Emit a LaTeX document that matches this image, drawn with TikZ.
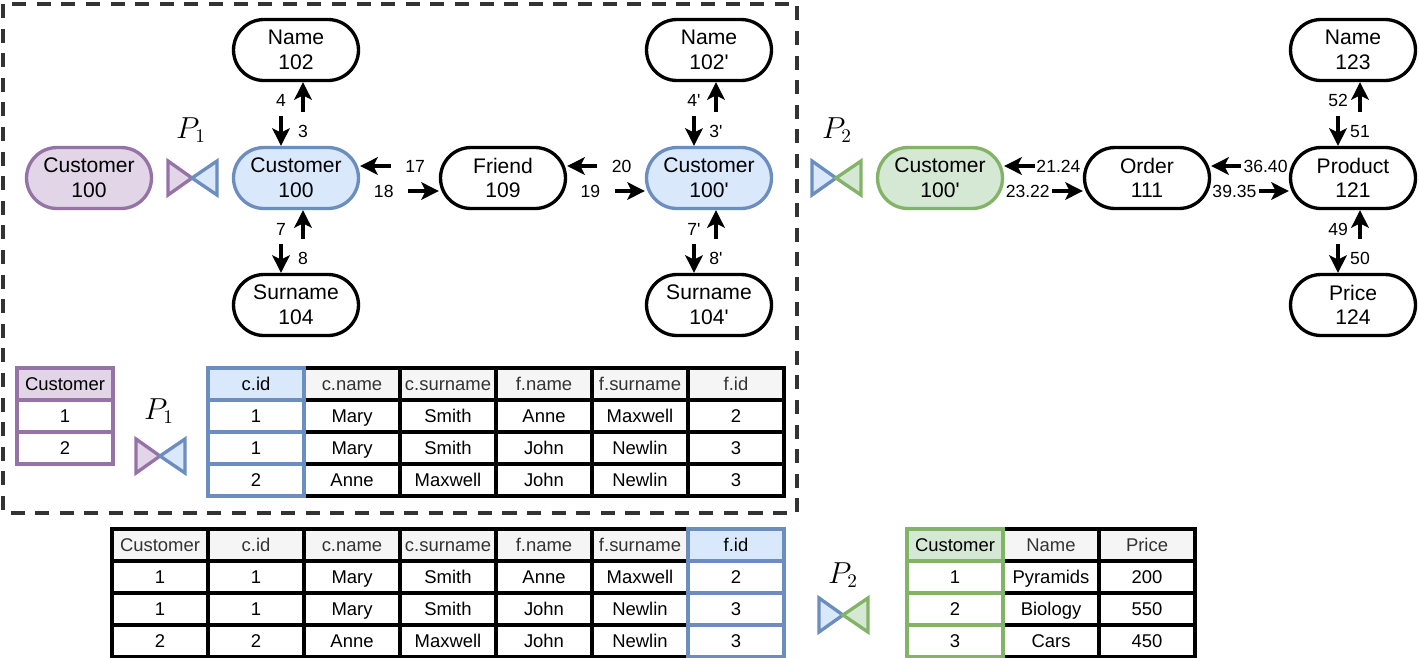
\documentclass[tikz,border=0pt]{standalone}
\usepackage[no-math]{fontspec}
\setmainfont{Liberation Sans}[Ligatures=TeXOff]
\newfontfamily\narrowfont{Liberation Sans}[FakeStretch=0.86, Ligatures=TeXOff]
\usetikzlibrary{arrows.meta, shapes.misc}

\definecolor{purpleline}{HTML}{9673A6}
\definecolor{purplefill}{HTML}{E1D5E7}
\definecolor{blueline}{HTML}{6C8EBF}
\definecolor{bluefill}{HTML}{DAE8FC}
\definecolor{greenline}{HTML}{82B366}
\definecolor{greenfill}{HTML}{D5E8D4}
\definecolor{headfill}{HTML}{F5F5F5}
\definecolor{headtext}{HTML}{333333}
\definecolor{boxgray}{HTML}{333333}

\tikzset{
  entity/.style={rounded rectangle, draw, line width=1.9pt, fill=white, minimum width=2.5cm, minimum height=1.22cm, inner sep=0pt, align=center, font=\fontsize{12}{14}\selectfont},
  purpleent/.style={entity, draw=purpleline, fill=purplefill},
  blueent/.style={entity, draw=blueline, fill=bluefill},
  greenent/.style={entity, draw=greenline, fill=greenfill},
  rel/.style={-{Stealth[length=10pt, width=10pt, inset=2.5pt]}, line width=1.9pt},
  hrel/.style={rel, shorten <=0.96cm},
  vrel/.style={rel, shorten <=0.68cm},
  elabel/.style={font=\fontsize{10}{11}\selectfont, inner sep=0pt},
  cell/.style={draw, line width=1.9pt, fill=white, minimum width=1.92cm, minimum height=0.64cm, inner sep=0pt, outer sep=0pt, text height=9pt, text depth=1.8pt, font=\fontsize{10.5}{12}\selectfont},
  head/.style={cell, fill=headfill, text=headtext},
  joinline/.style={line width=1.9pt, line join=miter},
  plabel/.style={font=\fontsize{16}{18}\selectfont, inner sep=0pt},
  dashbox/.style={draw=boxgray, line width=2pt, dash pattern=on 8pt off 6pt}
}

% join symbol: #1 centre, #2 left colour, #3 right colour
\newcommand{\joinmark}[3]{%
  \begin{scope}[shift={(#1)}]
    \draw[joinline, draw=#2line, fill=#2fill] (-24,-17) -- (0,0) -- (-24,17) -- cycle;
    \draw[joinline, draw=#3line, fill=#3fill] (25,-17) -- (0,0) -- (25,17) -- cycle;
  \end{scope}}

\begin{document}
\begin{tikzpicture}[x=0.02cm, y=-0.02cm]
  \useasboundingbox (0,0) rectangle (1419,657);

  % Partition P1
  \draw[dashbox] (3,4) rectangle (797,513);

  % Nodes
  \node[purpleent] (cust0) at (89,178) {Customer\\100};
  \node[blueent] (cust1) at (296,178) {Customer\\100};
  \node[entity] (name1) at (296,50) {Name\\102};
  \node[entity] (surn1) at (296,305) {Surname\\104};
  \node[entity] (friend) at (503,178) {Friend\\109};
  \node[blueent] (cust2) at (709,178) {Customer\\100'};
  \node[entity] (name2) at (709,50) {Name\\102'};
  \node[entity] (surn2) at (709,305) {Surname\\104'};
  \node[greenent] (cust3) at (940,178) {Customer\\100'};
  \node[entity] (order) at (1147,178) {Order\\111};
  \node[entity] (prod) at (1353,178) {Product\\121};
  \node[entity] (pname) at (1353,50) {Name\\123};
  \node[entity] (price) at (1353,305) {Price\\124};

  % Join symbols
  \node[plabel] (p1a) at (191,130) {$P_1$};
  \joinmark{192,178}{purple}{blue}
  \node[plabel] (p2a) at (837,130) {$P_2$};
  \joinmark{836,178}{blue}{green}

  % Edges
  \draw[vrel] ([xshift=0.14cm]cust1.north) -- ([xshift=0.14cm]name1.south) node[elabel, pos=0.23] {3};
  \draw[vrel] ([xshift=-0.3cm]name1.south) -- ([xshift=-0.3cm]cust1.north) node[elabel, pos=0.29] {4};
  \draw[vrel] ([xshift=-0.3cm]cust1.south) -- ([xshift=-0.3cm]surn1.north) node[elabel, pos=0.31] {7};
  \draw[vrel] ([xshift=0.14cm]surn1.north) -- ([xshift=0.14cm]cust1.south) node[elabel, pos=0.23] {8};
  \draw[hrel] ([yshift=0.24cm]friend.west) -- ([yshift=0.24cm]cust1.east) node[elabel, pos=0.3] {17};
  \draw[hrel] ([yshift=-0.26cm]cust1.east) -- ([yshift=-0.26cm]friend.west) node[elabel, pos=0.3] {18};
  \draw[hrel] ([yshift=-0.26cm]friend.east) -- ([yshift=-0.26cm]cust2.west) node[elabel, pos=0.3] {19};
  \draw[hrel] ([yshift=0.24cm]cust2.west) -- ([yshift=0.24cm]friend.east) node[elabel, pos=0.3] {20};
  \draw[vrel] ([xshift=0.14cm]cust2.north) -- ([xshift=0.14cm]name2.south) node[elabel, pos=0.23] {3'};
  \draw[vrel] ([xshift=-0.3cm]name2.south) -- ([xshift=-0.3cm]cust2.north) node[elabel, pos=0.29] {4'};
  \draw[vrel] ([xshift=-0.3cm]cust2.south) -- ([xshift=-0.3cm]surn2.north) node[elabel, pos=0.31] {7'};
  \draw[vrel] ([xshift=0.14cm]surn2.north) -- ([xshift=0.14cm]cust2.south) node[elabel, pos=0.23] {8'};
  \draw[hrel] ([yshift=0.24cm]order.west) -- ([yshift=0.24cm]cust3.east) node[elabel, pos=0.31] {21.24};
  \draw[hrel] ([yshift=-0.26cm]cust3.east) -- ([yshift=-0.26cm]order.west) node[elabel, pos=0.3] {23.22};
  \draw[hrel] ([yshift=0.24cm]prod.west) -- ([yshift=0.24cm]order.east) node[elabel, pos=0.3] {36.40};
  \draw[hrel] ([yshift=-0.26cm]order.east) -- ([yshift=-0.26cm]prod.west) node[elabel, pos=0.3] {39.35};
  \draw[vrel] ([xshift=0.14cm]prod.north) -- ([xshift=0.14cm]pname.south) node[elabel, pos=0.23] {51};
  \draw[vrel] ([xshift=-0.3cm]pname.south) -- ([xshift=-0.3cm]prod.north) node[elabel, pos=0.29] {52};
  \draw[vrel] ([xshift=-0.3cm]prod.south) -- ([xshift=-0.3cm]price.north) node[elabel, pos=0.31] {49};
  \draw[vrel] ([xshift=0.14cm]price.north) -- ([xshift=0.14cm]prod.south) node[elabel, pos=0.23] {50};

  % Table: customers of P1
  \node[head, draw=purpleline, fill=purplefill, text=black] (ct0) at (65,384) {Customer};
  \node[cell, draw=purpleline] (ct1) at (65,416) {1};
  \node[cell, draw=purpleline] (ct2) at (65,448) {2};
  \node[plabel] (p1b) at (159,411) {$P_1$};
  \joinmark{160,456}{purple}{blue}

  % Table: customers with friends
  \foreach \txt [count=\j] in {c.name, c.surname, f.name, f.surname, f.id}
    \node[head] (fh\j) at ({256+96*\j},384) {\txt};
  \foreach \cnm/\csn/\fnm/\fsn/\fid [count=\i] in {Mary/Smith/Anne/Maxwell/2, Mary/Smith/John/Newlin/3, Anne/Maxwell/John/Newlin/3} {
    \node[cell] (f\i-1) at (352,{384+32*\i}) {\cnm};
    \node[cell] (f\i-2) at (448,{384+32*\i}) {\csn};
    \node[cell] (f\i-3) at (544,{384+32*\i}) {\fnm};
    \node[cell] (f\i-4) at (640,{384+32*\i}) {\fsn};
    \node[cell] (f\i-5) at (736,{384+32*\i}) {\fid};
  }
  \node[head, draw=blueline, fill=bluefill, text=black] (fh0) at (256,384) {c.id};
  \foreach \cid [count=\i] in {1,1,2}
    \node[cell, draw=blueline] (f\i-0) at (256,{384+32*\i}) {\cid};

  % Table: joined result
  \begin{scope}[every node/.append style={font=\narrowfont\fontsize{11.5}{12}\selectfont}]
    \foreach \txt [count=\j from 0] in {Customer, c.id, c.name, c.surname, f.name, f.surname}
      \node[head] (rh\j) at ({160+96*\j},545) {\txt};
    \foreach \cu/\cid/\cnm/\csn/\fnm/\fsn [count=\i] in {1/1/Mary/Smith/Anne/Maxwell, 1/1/Mary/Smith/John/Newlin, 2/2/Anne/Maxwell/John/Newlin} {
      \node[cell] (r\i-0) at (160,{545+32*\i}) {\cu};
      \node[cell] (r\i-1) at (256,{545+32*\i}) {\cid};
      \node[cell] (r\i-2) at (352,{545+32*\i}) {\cnm};
      \node[cell] (r\i-3) at (448,{545+32*\i}) {\csn};
      \node[cell] (r\i-4) at (544,{545+32*\i}) {\fnm};
      \node[cell] (r\i-5) at (640,{545+32*\i}) {\fsn};
    }
    \node[head, draw=blueline, fill=bluefill, text=black] (rh6) at (736,545) {f.id};
    \foreach \fid [count=\i] in {2,3,3}
      \node[cell, draw=blueline] (r\i-6) at (736,{545+32*\i}) {\fid};
  \end{scope}

  \node[plabel] (p2b) at (843,575) {$P_2$};
  \joinmark{843,615}{blue}{green}

  % Table: orders of P2
  \node[head] (oh1) at (1051,545) {Name};
  \node[head] (oh2) at (1147,545) {Price};
  \foreach \pn/\pp [count=\i] in {Pyramids/200, Biology/550, Cars/450} {
    \node[cell] (o\i-1) at (1051,{545+32*\i}) {\pn};
    \node[cell] (o\i-2) at (1147,{545+32*\i}) {\pp};
  }
  \node[head, draw=greenline, fill=greenfill, text=black] (oh0) at (955,545) {Customer};
  \foreach \cu [count=\i] in {1,2,3}
    \node[cell, draw=greenline] (o\i-0) at (955,{545+32*\i}) {\cu};
\end{tikzpicture}
\end{document}
